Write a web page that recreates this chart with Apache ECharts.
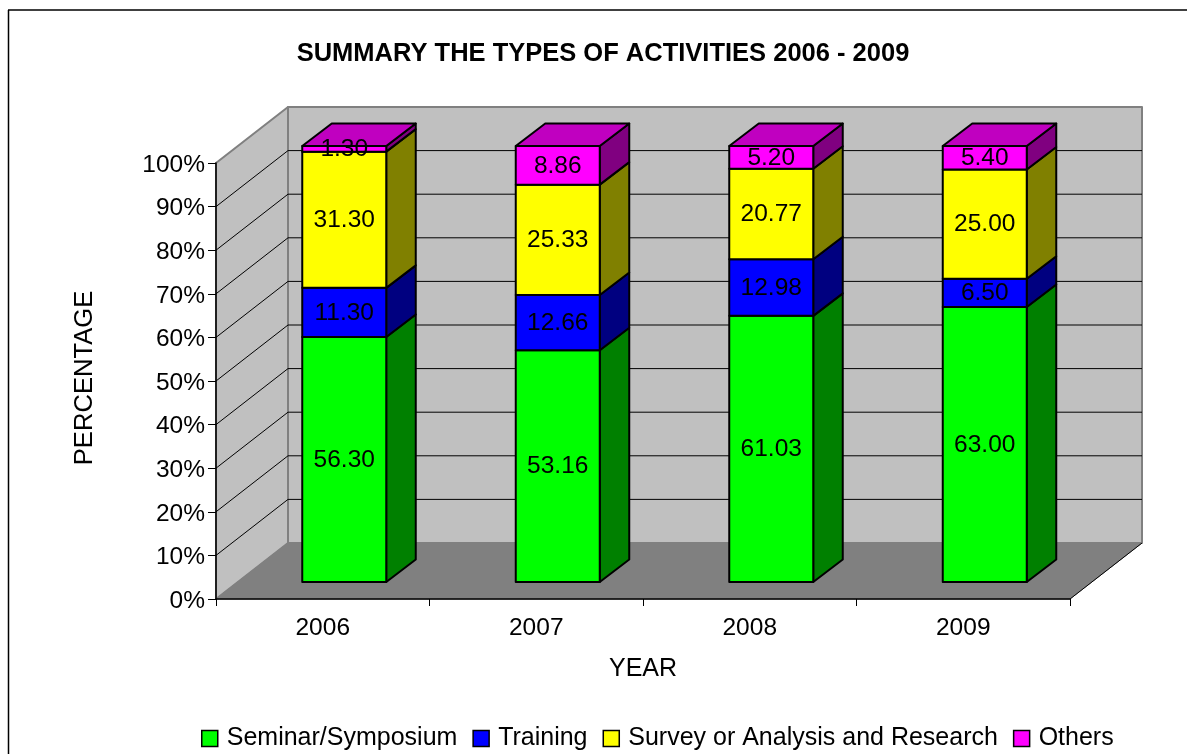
<!DOCTYPE html>
<html>
<head>
<meta charset="utf-8">
<style>
html, body { margin: 0; padding: 0; background: #fff; }
#main { width: 1187px; height: 754px; }
</style>
<script src="https://cdn.jsdelivr.net/npm/echarts@6/dist/echarts.min.js"></script>
</head>
<body>
<div id="main"></div>
<script>
var years = ['2006', '2007', '2008', '2009'];
var seminar = [56.30, 53.16, 61.03, 63.00];
var training = [11.30, 12.66, 12.98, 6.50];
var survey = [31.30, 25.33, 20.77, 25.00];
var others = [1.30, 8.86, 5.20, 5.40];
var gridTicks = [0, 10, 20, 30, 40, 50, 60, 70, 80, 90, 100];

var seriesNames = ['Seminar/Symposium', 'Training', 'Survey or Analysis and Research', 'Others'];
var seriesValues = [seminar, training, survey, others];
var frontColors = ['#00ff00', '#0000ff', '#ffff00', '#ff00ff'];
var sideColors = ['#008000', '#000080', '#808000', '#800080'];
var topColor = '#c000c0';

var FONT = '"Liberation Sans", Arial, sans-serif';
var FONT_SIZE = 24.5;

// 3d look: wall depth, where the bars stand on the floor, bar depth
var WALL_DX = 72, WALL_DY = -56;
var BAR_DX = 21.5, BAR_DY = -17;
var BAR_WIDTH = 84, BAR_DEPTH_X = 29.5, BAR_DEPTH_Y = -22.5;

var chart = echarts.init(document.getElementById('main'));

var poly = function(points, fill, stroke, width) {
    return {
        type: 'polygon',
        shape: { points: points },
        style: { fill: fill, stroke: stroke, lineWidth: width, lineJoin: 'round' }
    };
};

var line = function(x1, y1, x2, y2, color, width) {
    return {
        type: 'line',
        shape: { x1: x1, y1: y1, x2: x2, y2: y2 },
        style: { stroke: color, lineWidth: width }
    };
};

var renderWalls = function(params, api) {
    var c = params.coordSys;
    var l = c.x, r = c.x + c.width, t = c.y, b = c.y + c.height;
    var dx = WALL_DX, dy = WALL_DY;
    return {
        type: 'group',
        children: [
            poly([[l + dx, t + dy], [r + dx, t + dy], [r + dx, b + dy], [l + dx, b + dy]], '#c0c0c0', '#808080', 2),
            poly([[l, t], [l + dx, t + dy], [l + dx, b + dy], [l, b]], '#c0c0c0', '#808080', 2),
            poly([[l, b], [l + dx, b + dy], [r + dx, b + dy], [r, b]], '#808080', '#808080', 1),
            line(r, b, r + dx, b + dy, '#000', 1)
        ]
    };
};

var renderGridLine = function(params, api) {
    var c = params.coordSys;
    var y = api.coord([0, api.value(0)])[1];
    if (api.value(0) === 0 || api.value(0) === 100) {
        return { type: 'group', children: [] };
    }
    return {
        type: 'group',
        children: [
            line(c.x, y, c.x + WALL_DX, y + WALL_DY, '#000', 1),
            line(c.x + WALL_DX, y + WALL_DY, c.x + c.width + WALL_DX, y + WALL_DY, '#000', 1)
        ]
    };
};

var makeRenderBar = function(idx) {
    return function(params, api) {
        var low = api.coord([api.value(0), api.value(1)]);
        var high = api.coord([api.value(0), api.value(2)]);
        var x0 = low[0] + BAR_DX - BAR_WIDTH / 2;
        var x1 = x0 + BAR_WIDTH;
        var y0 = low[1] + BAR_DY;
        var y1 = high[1] + BAR_DY;
        var ddx = BAR_DEPTH_X, ddy = BAR_DEPTH_Y;
        var children = [
            poly([[x1, y0], [x1 + ddx, y0 + ddy], [x1 + ddx, y1 + ddy], [x1, y1]], sideColors[idx], '#000', 2),
            poly([[x0, y0], [x1, y0], [x1, y1], [x0, y1]], frontColors[idx], '#000', 2)
        ];
        if (idx === seriesNames.length - 1) {
            children.push(poly([[x0, y1], [x1, y1], [x1 + ddx, y1 + ddy], [x0 + ddx, y1 + ddy]], topColor, '#000', 2));
        }
        children.push({
            type: 'text',
            style: {
                x: (x0 + x1) / 2,
                y: (y0 + y1) / 2 + 0.5,
                text: api.value(3).toFixed(2),
                fill: '#000',
                font: FONT_SIZE + 'px ' + FONT,
                align: 'center',
                verticalAlign: 'middle'
            }
        });
        return { type: 'group', children: children };
    };
};

var series = [{
    type: 'custom',
    name: 'walls',
    silent: true,
    renderItem: renderWalls,
    data: [[0]]
}, {
    type: 'custom',
    name: 'gridlines',
    silent: true,
    renderItem: renderGridLine,
    data: gridTicks.map(function(v) { return [v]; })
}];

seriesNames.forEach(function(name, idx) {
    var rows = years.map(function(year, i) {
        var total = 0, start = 0;
        seriesValues.forEach(function(vals, s) {
            total += vals[i];
            if (s < idx) {
                start += vals[i];
            }
        });
        return [i, start / total * 100, (start + seriesValues[idx][i]) / total * 100, seriesValues[idx][i]];
    });
    series.push({
        type: 'custom',
        name: name,
        silent: true,
        itemStyle: { color: frontColors[idx] },
        renderItem: makeRenderBar(idx),
        encode: { x: 0, y: [1, 2] },
        data: rows
    });
});

chart.setOption({
    animation: false,
    backgroundColor: '#fff',
    textStyle: { fontFamily: FONT, color: '#000' },
    title: {
        text: 'SUMMARY THE TYPES OF ACTIVITIES 2006 - 2009',
        left: 598,
        top: 36,
        textAlign: 'center',
        textStyle: { fontFamily: FONT, fontSize: 25.5, fontWeight: 'bold', color: '#000' }
    },
    legend: {
        data: seriesNames,
        left: 201,
        top: 726,
        padding: 0,
        itemWidth: 16,
        itemHeight: 16,
        itemGap: 15,
        icon: 'rect',
        itemStyle: { borderColor: '#000', borderWidth: 1.5 },
        textStyle: { fontFamily: FONT, fontSize: 25, color: '#000', padding: [0, 0, 0, 4] }
    },
    grid: { left: 216, top: 163, width: 854, height: 436 },
    xAxis: {
        type: 'category',
        data: years,
        z: 3,
        name: 'YEAR',
        nameLocation: 'middle',
        nameGap: 58,
        nameTextStyle: { fontFamily: FONT, fontSize: 25, color: '#000' },
        axisLine: { show: true, lineStyle: { color: '#000', width: 1.5 } },
        axisTick: { show: true, length: 7, lineStyle: { color: '#000', width: 1 } },
        axisLabel: { fontFamily: FONT, fontSize: FONT_SIZE, color: '#000', margin: 17 },
        splitLine: { show: false }
    },
    yAxis: {
        type: 'value',
        min: 0,
        max: 100,
        interval: 10,
        z: 3,
        name: 'PERCENTAGE',
        nameLocation: 'middle',
        nameGap: 118,
        nameTextStyle: { fontFamily: FONT, fontSize: 25.6, color: '#000', padding: [0, 0, 0, 6] },
        axisLine: { show: true, lineStyle: { color: '#000', width: 1.5 } },
        axisTick: { show: true, length: 8, lineStyle: { color: '#000', width: 1 } },
        axisLabel: {
            margin: 11,
            formatter: '{tick|{value}%}',
            rich: {
                tick: { fontFamily: FONT, fontSize: FONT_SIZE, color: '#000', padding: [4, 0, 0, 0] }
            }
        },
        splitLine: { show: false }
    },
    graphic: [
        { type: 'line', shape: { x1: 8, y1: 10, x2: 1187, y2: 10 }, style: { stroke: '#404040', lineWidth: 2 } },
        { type: 'line', shape: { x1: 8.5, y1: 10, x2: 8.5, y2: 754 }, style: { stroke: '#000', lineWidth: 1.5 } }
    ],
    series: series
});
</script>
</body>
</html>
